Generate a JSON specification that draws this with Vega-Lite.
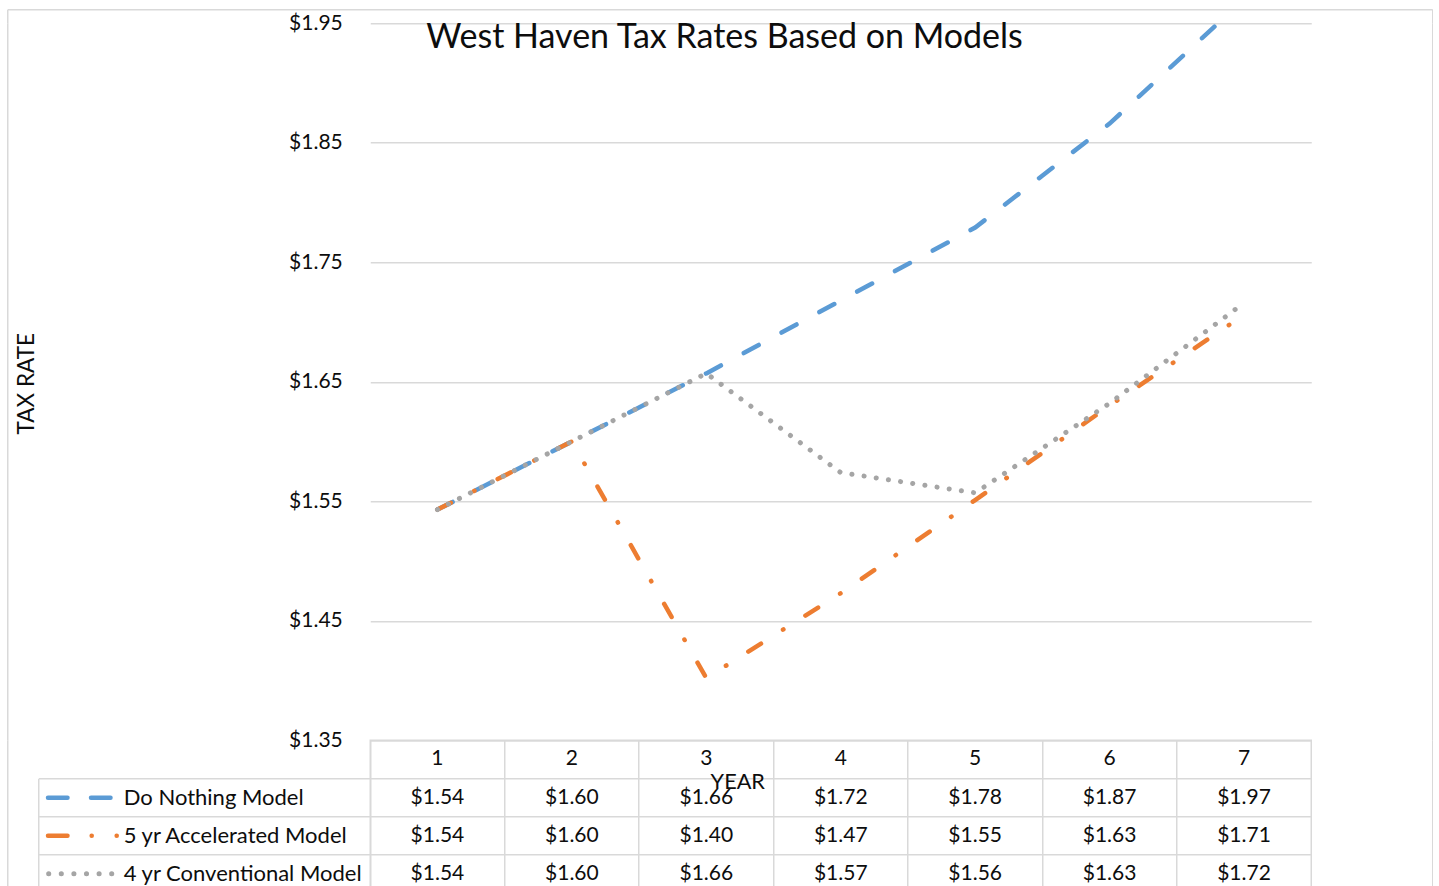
{
  "$schema": "https://vega.github.io/schema/vega-lite/v6.json",
  "padding": {"left": 6.25, "top": 8.25, "right": 0, "bottom": 0},
  "background": "white",
  "config": {
    "font": "Lato",
    "view": {"stroke": null},
    "axis": {"labelFont": "Lato", "titleFont": "Lato", "labelColor": "#0d0d0d", "titleColor": "#0d0d0d", "titleFontWeight": "normal"},
    "text": {"font": "Lato", "fontSize": 21, "color": "#0d0d0d"}
  },
  "datasets": {
    "rates": [
      {"year": 1, "model": "Do Nothing Model", "rate": 1.543},
      {"year": 2, "model": "Do Nothing Model", "rate": 1.600},
      {"year": 3, "model": "Do Nothing Model", "rate": 1.657},
      {"year": 4, "model": "Do Nothing Model", "rate": 1.718},
      {"year": 5, "model": "Do Nothing Model", "rate": 1.779},
      {"year": 6, "model": "Do Nothing Model", "rate": 1.866},
      {"year": 7, "model": "Do Nothing Model", "rate": 1.970},
      {"year": 1, "model": "5 yr Accelerated Model", "rate": 1.543},
      {"year": 2, "model": "5 yr Accelerated Model", "rate": 1.600},
      {"year": 3, "model": "5 yr Accelerated Model", "rate": 1.402},
      {"year": 4, "model": "5 yr Accelerated Model", "rate": 1.473},
      {"year": 5, "model": "5 yr Accelerated Model", "rate": 1.551},
      {"year": 6, "model": "5 yr Accelerated Model", "rate": 1.630},
      {"year": 7, "model": "5 yr Accelerated Model", "rate": 1.706},
      {"year": 1, "model": "4 yr Conventional Model", "rate": 1.543},
      {"year": 2, "model": "4 yr Conventional Model", "rate": 1.600},
      {"year": 3, "model": "4 yr Conventional Model", "rate": 1.657},
      {"year": 4, "model": "4 yr Conventional Model", "rate": 1.574},
      {"year": 5, "model": "4 yr Conventional Model", "rate": 1.557},
      {"year": 6, "model": "4 yr Conventional Model", "rate": 1.632},
      {"year": 7, "model": "4 yr Conventional Model", "rate": 1.716}
    ],
    "frame": [{"edge": "frame"}]
  },
  "data": {"name": "rates"},
  "spacing": 0,
  "bounds": "flush",
  "vconcat": [
    {
      "width": 941,
      "height": 14,
      "data": {"name": "frame"},
      "resolve": {"axis": {"y": "independent"}},
      "layer": [
        {
          "mark": {"type": "rule", "opacity": 0},
          "encoding": {
            "y": {
              "datum": 1, "type": "quantitative",
              "scale": {"domain": [0, 1], "nice": false, "zero": false},
              "axis": {
                "orient": "left", "offset": 363,
                "domain": true, "domainColor": "#d9d9d9", "domainWidth": 1.5,
                "values": [1], "ticks": true, "tickSize": -1425, "tickColor": "#d9d9d9", "tickWidth": 1.5,
                "labels": false, "grid": false, "title": null
              }
            }
          }
        },
        {
          "mark": {"type": "rule", "opacity": 0},
          "encoding": {
            "y": {
              "datum": 1, "type": "quantitative",
              "axis": {
                "orient": "right", "offset": 121,
                "domain": true, "domainColor": "#d9d9d9", "domainWidth": 1.5,
                "ticks": false, "labels": false, "grid": false, "title": null
              }
            }
          }
        }
      ]
    },
    {
      "width": 941,
      "height": 717,
      "title": {
        "text": "West Haven Tax Rates Based on Models",
        "anchor": "start",
        "frame": "group",
        "dx": 56,
        "offset": -70,
        "baseline": "alphabetic",
        "font": "Lato",
        "fontSize": 34,
        "fontWeight": "normal",
        "color": "#0d0d0d"
      },
      "resolve": {"axis": {"y": "independent"}},
      "layer": [
        {
          "encoding": {
            "x": {"field": "year", "type": "ordinal", "scale": {"type": "point", "padding": 0.5}, "axis": null},
            "y": {
              "field": "rate", "type": "quantitative",
              "scale": {"domain": [1.35, 1.95], "nice": false, "zero": false},
              "axis": {
                "orient": "left",
                "values": [1.35, 1.45, 1.55, 1.65, 1.75, 1.85, 1.95],
                "format": "$.2f",
                "ticks": false, "domain": false,
                "grid": true, "gridColor": "#d9d9d9", "gridWidth": 1.5,
                "labelFontSize": 21, "labelPadding": 28,
                "title": "TAX RATE", "titleFontSize": 22.5,
                "titleX": -344, "titleY": 360, "titleAngle": -90,
                "titleBaseline": "middle", "titleAlign": "center"
              }
            },
            "color": {
              "field": "model", "type": "nominal",
              "scale": {"domain": ["Do Nothing Model", "5 yr Accelerated Model", "4 yr Conventional Model"], "range": ["#5b9bd5", "#ed7d31", "#a5a5a5"]},
              "legend": null
            },
            "strokeDash": {
              "field": "model", "type": "nominal",
              "scale": {"domain": ["Do Nothing Model", "5 yr Accelerated Model", "4 yr Conventional Model"], "range": [[17, 26], [15, 26, 0.5, 26], [0.1, 12.2]]},
              "legend": null
            }
          },
          "layer": [
            {"transform": [{"filter": "datum.model === 'Do Nothing Model'"}], "mark": {"type": "line", "strokeWidth": 4.5, "strokeCap": "round", "interpolate": "linear", "clip": true}},
            {"transform": [{"filter": "datum.model === '5 yr Accelerated Model'"}], "mark": {"type": "line", "strokeWidth": 4.5, "strokeCap": "round", "interpolate": "linear", "clip": true}},
            {"transform": [{"filter": "datum.model === '4 yr Conventional Model'"}], "mark": {"type": "line", "strokeWidth": 5, "strokeCap": "round", "interpolate": "linear", "clip": true}}
          ]
        },
        {
          "data": {"name": "frame"},
          "mark": {"type": "rule", "opacity": 0},
          "encoding": {
            "y": {
              "datum": 1.95, "type": "quantitative",
              "axis": {
                "orient": "left", "offset": 363,
                "domain": true, "domainColor": "#d9d9d9", "domainWidth": 1.5,
                "ticks": false, "labels": false, "grid": false, "title": null
              }
            }
          }
        },
        {
          "data": {"name": "frame"},
          "mark": {"type": "rule", "opacity": 0},
          "encoding": {
            "y": {
              "datum": 1.95, "type": "quantitative",
              "axis": {
                "orient": "right", "offset": 121,
                "domain": true, "domainColor": "#d9d9d9", "domainWidth": 1.5,
                "ticks": false, "labels": false, "grid": false, "title": null
              }
            }
          }
        }
      ]
    },
    {
      "width": 941,
      "height": 153,
      "view": {"stroke": "#d9d9d9", "strokeWidth": 1.5},
      "resolve": {"axis": {"x": "independent", "y": "independent"}, "scale": {"x": "shared", "y": "shared"}},
      "layer": [
        {
          "mark": {"type": "text", "baseline": "middle", "align": "center", "fontSize": 21},
          "encoding": {
            "x": {
              "field": "year", "type": "ordinal",
              "scale": {"type": "band", "paddingInner": 0, "paddingOuter": 0},
              "axis": {
                "orient": "top", "bandPosition": 0,
                "grid": true, "gridColor": "#d9d9d9", "gridWidth": 1.5,
                "ticks": false, "labels": false, "domain": false,
                "title": "YEAR", "titleFontSize": 21.7,
                "titleX": 367, "titleY": 41, "titleBaseline": "middle", "titleAlign": "center"
              }
            },
            "y": {
              "field": "model", "type": "nominal",
              "scale": {"type": "band", "domain": ["hdr", "Do Nothing Model", "5 yr Accelerated Model", "4 yr Conventional Model"], "paddingInner": 0, "paddingOuter": 0},
              "axis": {
                "orient": "left",
                "offset": 252,
                "domain": false, "grid": false, "title": null,
                "tickSize": 73, "tickCap": "round",
                "tickWidth": {"condition": {"test": "datum.value === '4 yr Conventional Model'", "value": 5}, "value": 4.5},
                "tickColor": {"condition": [{"test": "datum.value === 'Do Nothing Model'", "value": "#5b9bd5"}, {"test": "datum.value === '5 yr Accelerated Model'", "value": "#ed7d31"}], "value": "#a5a5a5"},
                "tickDash": {"condition": [{"test": "datum.value === 'Do Nothing Model'", "value": [19.5, 23.5]}, {"test": "datum.value === '5 yr Accelerated Model'", "value": [0.1, 24.9, 0.1, 24.15, 19.5, 100]}], "value": [0.1, 12.5]},
                "tickDashOffset": {"condition": [{"test": "datum.value === 'Do Nothing Model'", "value": -8.25}, {"test": "datum.value === '5 yr Accelerated Model'", "value": -2}], "value": -7},
                "tickOpacity": {"condition": {"test": "datum.value === 'hdr'", "value": 0}, "value": 1},
                "labelExpr": "datum.value === 'hdr' ? '' : datum.label",
                "labelAlign": "left", "labelBaseline": "middle", "labelPadding": -78, "labelFontSize": 22, "labelLimit": 400
              }
            },
            "text": {"field": "rate", "type": "quantitative", "format": "$.2f"}
          }
        },
        {
          "transform": [{"filter": "datum.model === 'Do Nothing Model'"}],
          "mark": {"type": "text", "baseline": "middle", "align": "center", "fontSize": 21},
          "encoding": {
            "x": {"field": "year", "type": "ordinal", "axis": null},
            "y": {
              "datum": "hdr", "type": "nominal",
              "axis": {
                "orient": "left",
                "offset": 332,
                "bandPosition": 0,
                "grid": true, "gridColor": "#d9d9d9", "gridWidth": 1.5,
                "domain": true, "domainColor": "#d9d9d9", "domainWidth": 1.5, "domainDash": [0, 38.25, 2000],
                "ticks": true, "tickSize": -332, "tickColor": "#d9d9d9", "tickWidth": 1.5,
                "tickOpacity": {"condition": {"test": "datum.value === 'hdr'", "value": 0}, "value": 1},
                "labels": false, "title": null
              }
            },
            "text": {"field": "year", "type": "ordinal"}
          }
        },
        {
          "data": {"name": "frame"},
          "mark": {"type": "rule", "opacity": 0},
          "encoding": {
            "y": {
              "datum": "hdr", "type": "nominal",
              "axis": {
                "orient": "left", "offset": 363,
                "domain": true, "domainColor": "#d9d9d9", "domainWidth": 1.5,
                "ticks": false, "labels": false, "grid": false, "title": null
              }
            }
          }
        },
        {
          "data": {"name": "frame"},
          "mark": {"type": "rule", "opacity": 0},
          "encoding": {
            "y": {
              "datum": "hdr", "type": "nominal",
              "axis": {
                "orient": "right", "offset": 121,
                "domain": true, "domainColor": "#d9d9d9", "domainWidth": 1.5,
                "ticks": false, "labels": false, "grid": false, "title": null
              }
            }
          }
        }
      ]
    }
  ]
}
